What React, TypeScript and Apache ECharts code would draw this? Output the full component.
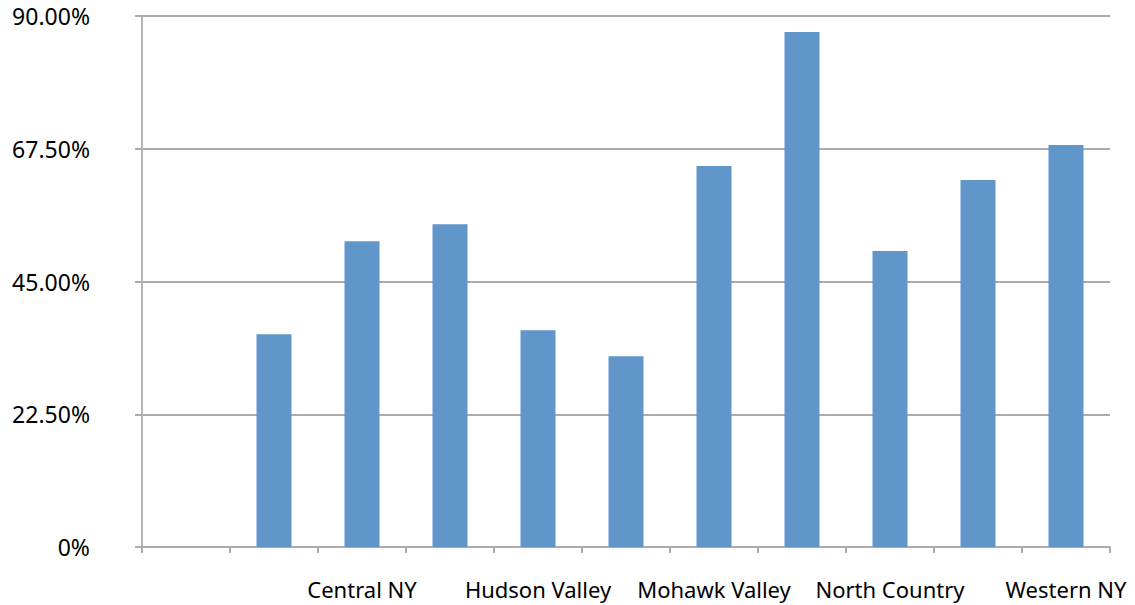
import React, { useEffect, useRef } from "react";
import * as echarts from "echarts";

const categories = [
  "",
  "Capital Region",
  "Central NY",
  "Finger Lakes",
  "Hudson Valley",
  "Long Island",
  "Mohawk Valley",
  "New York City",
  "North Country",
  "Southern Tier",
  "Western NY",
];
const values = [null, 36.07, 51.84, 54.72, 36.75, 32.34, 64.56, 87.29, 50.15, 62.19, 68.12];
const yMin = 0;
const yMax = 90;
const yInterval = 22.5;

export default function App() {
  const ref = useRef<HTMLDivElement>(null);
  useEffect(() => {
    if (!ref.current) return;
    const chart = echarts.init(ref.current, null, { renderer: "svg" });
    const font = "'Noto Sans', 'Open Sans', sans-serif";
    chart.setOption({
      animation: false,
      backgroundColor: "#ffffff",
      grid: { left: 142, right: 25, top: 16, bottom: 58, containLabel: false },
      xAxis: {
        type: "category",
        data: categories,
        boundaryGap: true,
        axisLine: { show: true, lineStyle: { color: "#ABABAB", width: 2 } },
        axisTick: { show: true, interval: 0, length: 6, lineStyle: { color: "#ABABAB", width: 2 } },
        axisLabel: {
          interval: 1,
          color: "#000000",
          fontFamily: font,
          fontSize: 22,
          margin: 31,
        },
        splitLine: { show: false },
      },
      yAxis: {
        type: "value",
        min: yMin,
        max: yMax,
        interval: yInterval,
        axisLine: { show: true, lineStyle: { color: "#B4B4B4", width: 2 } },
        axisTick: { show: true, length: 7, lineStyle: { color: "#ABABAB", width: 2 } },
        axisLabel: {
          color: "#000000",
          fontFamily: font,
          fontSize: 23,
          margin: 52,
          formatter: (v: number) => (v === 0 ? "0%" : v.toFixed(2) + "%"),
        },
        splitLine: { show: true, lineStyle: { color: "#ABABAB", width: 2 } },
      },
      series: [
        {
          type: "bar",
          data: values,
          barWidth: 35,
          itemStyle: { color: "#6096CA" },
        },
      ],
    });
    return () => chart.dispose();
  }, []);
  return (
    <div
      ref={ref}
      style={{ position: "fixed", left: 0, top: 0, width: 1135, height: 605, background: "#fff" }}
    />
  );
}
